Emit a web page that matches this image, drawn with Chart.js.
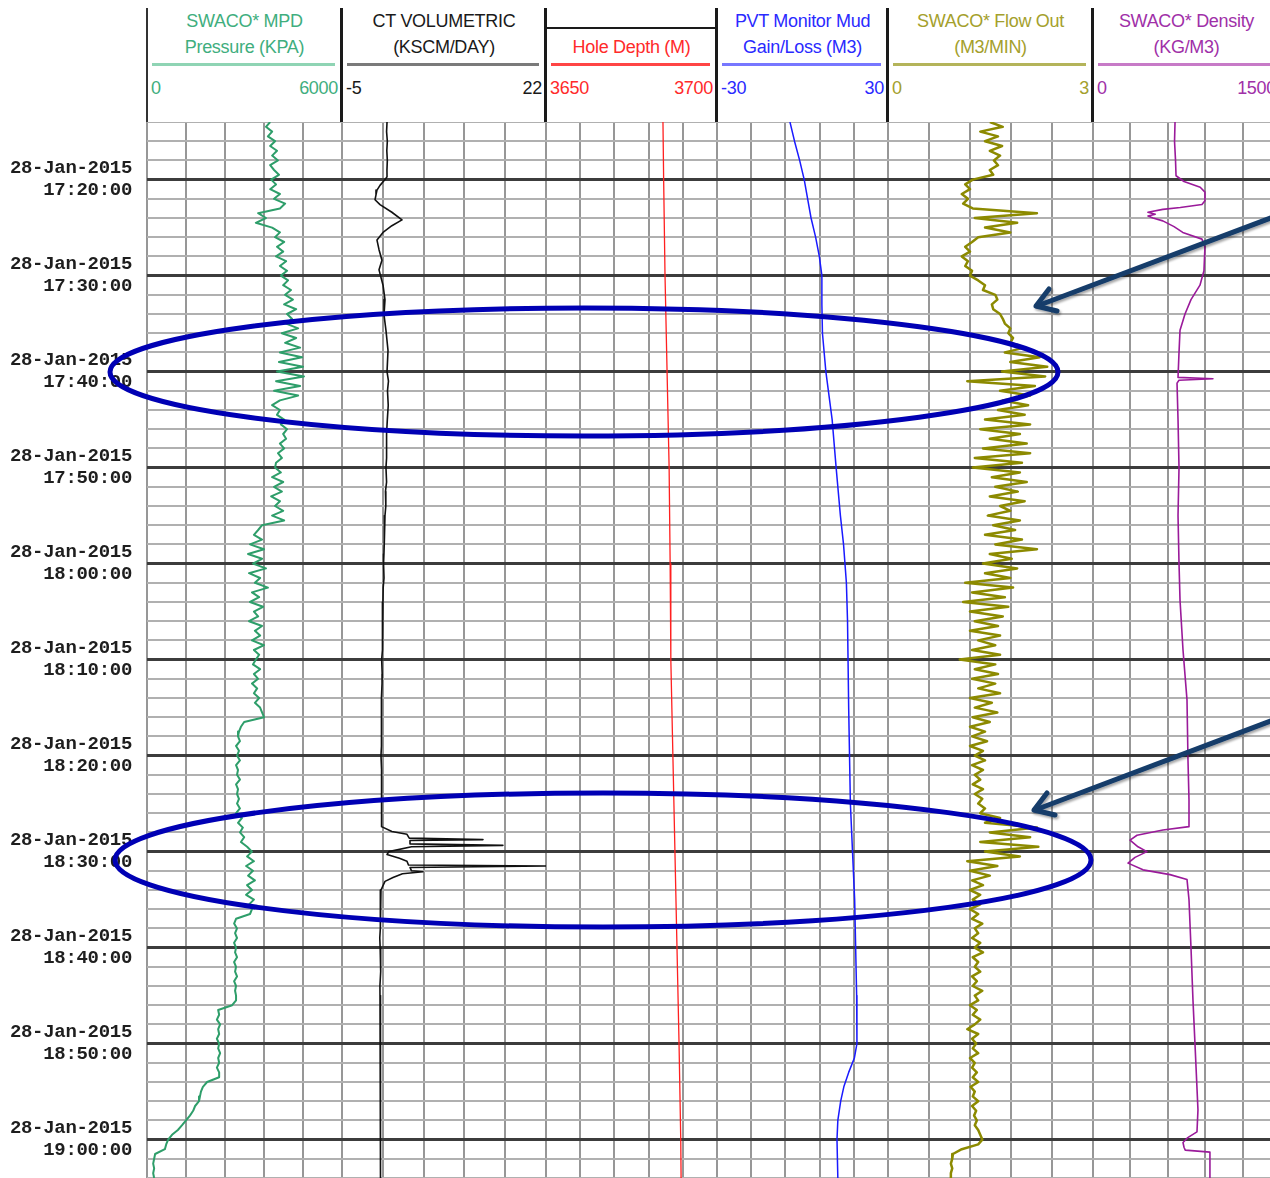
<!DOCTYPE html>
<html lang="en">
<head>
  <meta charset="UTF-8">
  <title>MPD log 28-Jan-2015</title>
  <style>
    body {
      margin: 0;
      background: #fff;
      overflow: hidden;
    }
    #page {
      position: relative;
      width: 1270px;
      height: 1178px;
      overflow: hidden;
      font-family: "Liberation Sans", Arial, sans-serif;
      font-size: 18px;
      letter-spacing: -0.3px;
    }
    .hdr {
      position: absolute;
      top: 0;
      height: 122px;
    }
    .t1, .t2 {
      position: absolute;
      left: 0;
      right: 0;
      text-align: center;
      line-height: 22px;
      white-space: nowrap;
    }
    .t1 { top: 10px; }
    .t2 { top: 36px; }
    .rule {
      position: absolute;
      top: 63px;
      left: 5px;
      right: 7px;
      height: 3px;
    }
    .lo, .hi {
      position: absolute;
      top: 77px;
      line-height: 22px;
    }
    .lo { left: 4px; }
    .hi { right: 4px; }
    .sep {
      position: absolute;
      top: 8px;
      width: 3px;
      height: 114px;
      background: #1a1a1a;
    }
    canvas {
      position: absolute;
      top: 122px;
    }
    #notes {
      position: absolute;
      left: 0;
      top: 0;
      pointer-events: none;
    }
  </style>
</head>
<body>
<div id="page">
  <!-- track headers -->
  <div class="hdr" style="left:147px;width:195px;color:#3fae7e">
    <div class="t1">SWACO* MPD</div>
    <div class="t2">Pressure (KPA)</div>
    <div class="rule" style="background:#8fd4b4"></div>
    <span class="lo">0</span><span class="hi">6000</span>
  </div>
  <div class="hdr" style="left:342px;width:204px;color:#1a1a1a">
    <div class="t1">CT VOLUMETRIC</div>
    <div class="t2">(KSCM/DAY)</div>
    <div class="rule" style="background:#7a7a7a"></div>
    <span class="lo">-5</span><span class="hi">22</span>
  </div>
  <div class="hdr" style="left:546px;width:171px;color:#ff2a2a">
    <div style="position:absolute;top:27px;left:0;right:0;height:2px;background:#1a1a1a"></div>
    <div class="t2">Hole Depth (M)</div>
    <div class="rule" style="background:#ff4545"></div>
    <span class="lo">3650</span><span class="hi">3700</span>
  </div>
  <div class="hdr" style="left:717px;width:171px;color:#2a2aff">
    <div class="t1">PVT Monitor Mud</div>
    <div class="t2">Gain/Loss (M3)</div>
    <div class="rule" style="background:#7777ff"></div>
    <span class="lo">-30</span><span class="hi">30</span>
  </div>
  <div class="hdr" style="left:888px;width:205px;color:#a4a02c">
    <div class="t1">SWACO* Flow Out</div>
    <div class="t2">(M3/MIN)</div>
    <div class="rule" style="background:#b4b45a"></div>
    <span class="lo">0</span><span class="hi">3</span>
  </div>
  <div class="hdr" style="left:1093px;width:187px;color:#a030a8">
    <div class="t1">SWACO* Density</div>
    <div class="t2">(KG/M3)</div>
    <div class="rule" style="background:#c77ac7"></div>
    <span class="lo">0</span><span class="hi">1500</span>
  </div>
  <div class="sep" style="left:146px;width:2px;background:#333"></div>
  <div class="sep" style="left:340px"></div>
  <div class="sep" style="left:544px"></div>
  <div class="sep" style="left:715px"></div>
  <div class="sep" style="left:886px"></div>
  <div class="sep" style="left:1091px"></div>

  <!-- one chart per track -->
  <canvas id="mpd" width="342" height="1056" style="left:0"></canvas>
  <canvas id="ct" width="204" height="1056" style="left:342px"></canvas>
  <canvas id="depth" width="171" height="1056" style="left:546px"></canvas>
  <canvas id="pvt" width="171" height="1056" style="left:717px"></canvas>
  <canvas id="flow" width="205" height="1056" style="left:888px"></canvas>
  <canvas id="density" width="187" height="1056" style="left:1093px"></canvas>

  <!-- hand drawn highlights -->
  <svg id="notes" width="1270" height="1178">
    <defs>
      <filter id="sh" x="-10%" y="-10%" width="120%" height="120%">
        <feDropShadow dx="1.5" dy="2" stdDeviation="1.2" flood-opacity="0.35"/>
      </filter>
    </defs>
    <ellipse cx="584" cy="372" rx="474" ry="64" fill="none" stroke="#0000b4" stroke-width="5"/>
    <ellipse cx="603" cy="860" rx="488" ry="67" fill="none" stroke="#0000b4" stroke-width="5"/>
    <g stroke="#143c6a" stroke-width="5" fill="none" stroke-linecap="round" stroke-linejoin="round" filter="url(#sh)">
      <line x1="1276" y1="216" x2="1037" y2="306"/>
      <polyline points="1057,311 1036,306 1049,289"/>
      <line x1="1276" y1="719" x2="1035" y2="810"/>
      <polyline points="1055,815 1034,810 1047,793"/>
    </g>
  </svg>
</div>

<script src="https://cdn.jsdelivr.net/npm/chart.js"></script>
<script>
  // time axis is minutes after 17:00 on 28-Jan-2015
  const timeMin = 14;
  const timeMax = 124;
  const sampleStep = 0.5; // MPD pressure and flow out are sampled every 30 s

  // SWACO MPD pressure (KPA), from 17:14:00 every 30 s
  const mpdPressure = [
    3790, 3660, 3850, 3720, 3940, 3790, 4000, 3850, 4030, 3790, 3910, 4060,
    3820, 3970, 3790, 4090, 3910, 4250, 4090, 3420, 3660, 3350, 3850, 4090,
    3940, 4220, 4000, 4190, 3970, 4280, 4090, 4310, 4120, 4340, 4190, 4430,
    4250, 4490, 4220, 4590, 4310, 4460, 4280, 4650, 4150, 4590, 4250, 4710,
    4090, 4770, 4060, 4800, 4000, 4830, 3970, 4710, 3910, 4650, 4090, 3850,
    4090, 4000, 4220, 4120, 4310, 4190, 4280, 4090, 4220, 4030, 4150, 3970,
    3940, 4120, 3850, 4190, 3910, 4150, 3820, 4090, 3940, 4190, 3850, 4220,
    3540, 3420, 3290, 3540, 3170, 3600, 3110, 3540, 3260, 3660, 3140, 3480,
    3320, 3720, 3230, 3450, 3170, 3570, 3290, 3420, 3140, 3540, 3320, 3480,
    3230, 3600, 3290, 3450, 3350, 3260, 3480, 3290, 3420, 3230, 3390, 3290,
    3450, 3320, 3480, 3540, 3600, 2990, 2890, 2830, 2800, 2860, 2740, 2830,
    2770, 2860, 2740, 2800, 2770, 2860, 2740, 2800, 2770, 2830, 2770, 2860,
    2740, 2920, 2800, 2950, 2860, 2990, 2890, 3080, 3230, 3080, 3290, 3050,
    3260, 3110, 3320, 3080, 3230, 3050, 3290, 3140, 3230, 3170, 2740, 2680,
    2770, 2710, 2770, 2680, 2740, 2710, 2770, 2680, 2740, 2710, 2770, 2680,
    2740, 2710, 2740, 2740, 2620, 2190, 2220, 2150, 2250, 2190, 2220, 2150,
    2220, 2190, 2250, 2190, 2220, 2150, 2220, 2220, 1850, 1720, 1660, 1630,
    1600, 1480, 1420, 1320, 1200, 1080, 950, 770, 650, 590, 550, 250,
    220, 190, 220, 190, 220
  ];

  // SWACO flow out (M3/MIN), from 17:14:00 every 30 s
  const flowOut = [
    1.49, 1.68, 1.35, 1.61, 1.42, 1.67, 1.49, 1.64, 1.55, 1.61, 1.49, 1.54,
    1.24, 1.13, 1.20, 1.08, 1.17, 1.10, 1.24, 2.18, 1.27, 1.89, 1.42, 1.79,
    1.32, 1.23, 1.13, 1.20, 1.08, 1.17, 1.13, 1.23, 1.20, 1.32, 1.42, 1.39,
    1.57, 1.60, 1.52, 1.54, 1.64, 1.68, 1.71, 1.79, 1.76, 1.83, 1.79, 2.00,
    1.71, 2.22, 1.79, 2.33, 1.67, 2.30, 1.16, 2.15, 1.64, 2.08, 1.68, 2.05,
    1.61, 2.00, 1.42, 2.08, 1.35, 1.93, 1.49, 2.03, 1.39, 2.08, 1.27, 1.96,
    1.24, 1.93, 1.52, 2.03, 1.57, 1.90, 1.49, 2.00, 1.64, 1.79, 1.46, 1.93,
    1.54, 1.86, 1.42, 1.96, 1.57, 2.18, 1.49, 1.81, 1.39, 1.89, 1.42, 1.79,
    1.13, 1.83, 1.23, 1.71, 1.10, 1.76, 1.20, 1.68, 1.27, 1.61, 1.20, 1.64,
    1.32, 1.57, 1.23, 1.64, 1.05, 1.57, 1.27, 1.61, 1.23, 1.57, 1.32, 1.64,
    1.20, 1.52, 1.27, 1.60, 1.24, 1.49, 1.20, 1.42, 1.23, 1.45, 1.20, 1.39,
    1.27, 1.42, 1.23, 1.39, 1.27, 1.35, 1.24, 1.39, 1.27, 1.38, 1.32, 1.42,
    1.35, 1.64, 1.42, 2.18, 1.49, 2.08, 1.35, 2.20, 1.42, 1.93, 1.16, 1.60,
    1.20, 1.49, 1.23, 1.39, 1.20, 1.35, 1.24, 1.35, 1.20, 1.32, 1.23, 1.38,
    1.27, 1.32, 1.23, 1.35, 1.27, 1.39, 1.24, 1.32, 1.27, 1.35, 1.23, 1.30,
    1.24, 1.38, 1.27, 1.32, 1.20, 1.30, 1.24, 1.35, 1.27, 1.16, 1.32, 1.23,
    1.29, 1.24, 1.32, 1.20, 1.27, 1.23, 1.30, 1.24, 1.32, 1.21, 1.27, 1.24,
    1.32, 1.23, 1.29, 1.26, 1.30, 1.27, 1.32, 1.35, 1.38, 1.32, 1.08, 0.95,
    0.94, 0.92, 0.94, 0.92, 0.92
  ];

  // CT volumetric (KSCM/DAY)
  const ctTime = [14, 15, 16, 17, 18, 19, 19.7, 20, 20.6, 21.1, 21.6, 22.1, 22.6,
    23.4, 24.2, 24.8, 25.5, 26.3, 27.3, 28.4, 29.4, 31, 32.5, 34.1, 35.7, 37.8,
    40, 41, 42, 43.5, 45, 46.5, 47.5, 49, 50, 51.5, 52.5, 54, 55, 56.5, 57.5, 59,
    60, 61.5, 62.5, 64, 65, 66.5, 67.5, 69, 70, 71.5, 72.5, 74, 75, 76.5,
    77.5, 79, 80, 81.5, 82.5, 84, 85, 86.5, 87.4, 87.9, 88.2, 88.6, 88.75, 88.85, 89.2, 89.35, 89.5,
    90, 90.3, 90.7, 91, 91.4, 91.5, 91.65, 92, 92.1, 92.3, 92.7, 93.1, 94, 95, 96,
    97, 98, 99, 100, 101, 102.5, 104, 105, 106.5, 107.5, 109, 110, 111.5, 112.5, 114,
    115, 116.5, 117.5, 119, 120, 121, 122, 123, 124];
  const ctVolumetric = [0.96, 0.9, 1.0, 0.93, 1.0, 0.95, 0.96, 0.69, 0.03, -0.37, -0.5, -0.63, 0.03,
    1.6, 2.94, 1.6, 0.43, -0.37, -0.1, 0.29, -0.1, 0.43, 0.69, 0.56, 0.82, 1.09,
    0.96, 1.15, 1.02, 1.12, 1.0, 0.9, 0.95, 0.85, 0.82, 0.9, 0.75, 0.8, 0.69, 0.62, 0.6, 0.55,
    0.5, 0.56, 0.45, 0.42, 0.4, 0.35, 0.3, 0.36, 0.25, 0.32, 0.3, 0.22, 0.2, 0.27,
    0.25, 0.18, 0.16, 0.24, 0.25, 0.18, 0.2, 0.26, 0.29, 1.6, 3.6, 3.9, 13.66, 4.0, 4.0, 16.3, 4.2,
    1.2, 0.96, 2.6, 3.6, 3.8, 22.1, 4.0, 4.2, 5.72, 3.0, 1.75, 0.69, 0.16, 0.05, 0.03,
    0.12, 0.1, 0.0, 0.05, 0.14, 0.1, 0.02, 0.03, 0.12, 0.1, 0.04, 0.05, 0.15, 0.1, 0.03,
    0.05, 0.13, 0.1, 0.06, 0.16, 0.08, 0.1, 0.16, 0.1];

  // hole depth (M)
  const depthTime = [14, 20, 30, 40, 50, 60, 70, 80, 90, 100, 110, 120, 124];
  const holeDepth = [3684.2, 3684.4, 3684.8, 3685.4, 3686.0, 3686.3, 3686.5, 3687.1, 3687.7, 3688.3, 3688.9, 3689.4, 3689.5];

  // PVT monitor mud gain/loss (M3)
  const pvtTime = [14, 16, 18, 20, 22, 24, 26, 28, 30, 33, 36, 40, 45, 50, 55, 58, 62, 66, 75, 85,
    95, 105, 110, 111.5, 113, 114.5, 116, 118, 120, 124];
  const pvtGainLoss = [-4.4, -2.8, -1.0, 0.6, 1.8, 3.0, 4.6, 5.9, 6.8, 6.8, 7.0, 8.2, 10.4, 11.8, 13.3, 14.4, 15.4, 15.8, 16.2, 16.8,
    18.3, 19.0, 19.1, 18.2, 16.2, 14.5, 13.4, 12.4, 12.1, 12.4];

  // SWACO density (KG/M3)
  const densityTime = [14, 16, 18, 19.6, 20.2, 20.8, 21.3, 22.2, 22.6, 22.9,
    23.1, 23.4, 23.6, 23.8, 24.0, 24.3, 24.9, 25.5, 26.2, 27,
    29.5, 31, 32.5, 34, 35.7, 38, 40.6, 40.75, 40.9, 41.2,
    45, 50, 55, 60, 63.8, 69, 74.2, 80.5, 84.6, 87.4,
    87.75, 88.3, 88.8, 89.5, 90.0, 90.6, 91.2, 91.9, 92.4, 92.9,
    95, 100, 105.5, 110, 116.9, 119.2, 119.8, 120.3, 120.8, 121.1,
    121.3, 124];
  const swacoDensity = [658, 654, 662, 666, 730, 860, 898, 898, 874, 700,
    560, 441, 500, 441, 481, 560, 650, 720, 874, 898,
    890, 858, 786, 738, 698, 690, 682, 962, 690, 674,
    682, 690, 682, 690, 698, 722, 754, 762, 770, 770,
    561, 353, 297, 361, 433, 337, 281, 401, 618, 754,
    770, 786, 802, 818, 842, 834, 760, 722, 730, 740,
    938, 938];

  const sampleTimes = mpdPressure.map((_, i) => timeMin + i * sampleStep);

  function pairs(times, values) {
    return times.map((t, i) => ({ x: values[i], y: t }));
  }

  function timeLabel(value) {
    if (value % 10 !== 0) return [];
    const h = 17 + Math.floor(value / 60);
    const m = value % 60;
    return ['28-Jan-2015', h + ':' + String(m).padStart(2, '0') + ':00'];
  }

  function makeTrack(id, xMin, xMax, points, color, width, withTime) {
    new Chart(document.getElementById(id), {
      type: 'line',
      data: {
        datasets: [{
          data: points,
          borderColor: color,
          borderWidth: width,
          borderJoinStyle: 'round',
          pointRadius: 0,
          tension: 0,
          fill: false
        }]
      },
      options: {
        indexAxis: 'y',
        responsive: false,
        animation: false,
        events: [],
        layout: { padding: 0 },
        plugins: { legend: { display: false }, tooltip: { enabled: false } },
        scales: {
          x: {
            type: 'linear',
            min: xMin,
            max: xMax,
            ticks: { display: false, count: 6 },
            grid: { drawTicks: false, color: '#979797', lineWidth: 2 },
            border: { display: false },
            afterFit: s => { s.height = 0; s.paddingLeft = 0; s.paddingRight = 0; }
          },
          y: {
            type: 'linear',
            reverse: true,
            min: timeMin,
            max: timeMax,
            ticks: {
              display: withTime,
              stepSize: 2,
              autoSkip: false,
              maxTicksLimit: 100,
              padding: 15,
              color: '#1e1e1e',
              font: { family: '"Liberation Mono", "Courier New", monospace', size: 19, weight: 'bold', lineHeight: 1.17 },
              callback: timeLabel
            },
            grid: {
              drawTicks: false,
              color: c => (c.tick && c.tick.value % 10 === 0) ? '#3c3c3c' : '#b0b0b0',
              lineWidth: c => (c.tick && c.tick.value % 10 === 0) ? 3 : 2
            },
            border: { display: false },
            afterFit: s => { s.width = withTime ? 147 : 0; s.paddingTop = 0; s.paddingBottom = 0; }
          }
        }
      }
    });
  }

  makeTrack('mpd', 0, 6000, pairs(sampleTimes, mpdPressure), '#2e9e6a', 2, true);
  makeTrack('ct', -5, 22, pairs(ctTime, ctVolumetric), '#111111', 1.6, false);
  makeTrack('depth', 3650, 3700, pairs(depthTime, holeDepth), '#ff2020', 1.3, false);
  makeTrack('pvt', -30, 30, pairs(pvtTime, pvtGainLoss), '#1a1aff', 1.5, false);
  makeTrack('flow', 0, 3, pairs(sampleTimes, flowOut), '#8c8a00', 2.5, false);
  makeTrack('density', 0, 1500, pairs(densityTime, swacoDensity), '#9a1a9a', 1.6, false);
</script>
</body>
</html>
